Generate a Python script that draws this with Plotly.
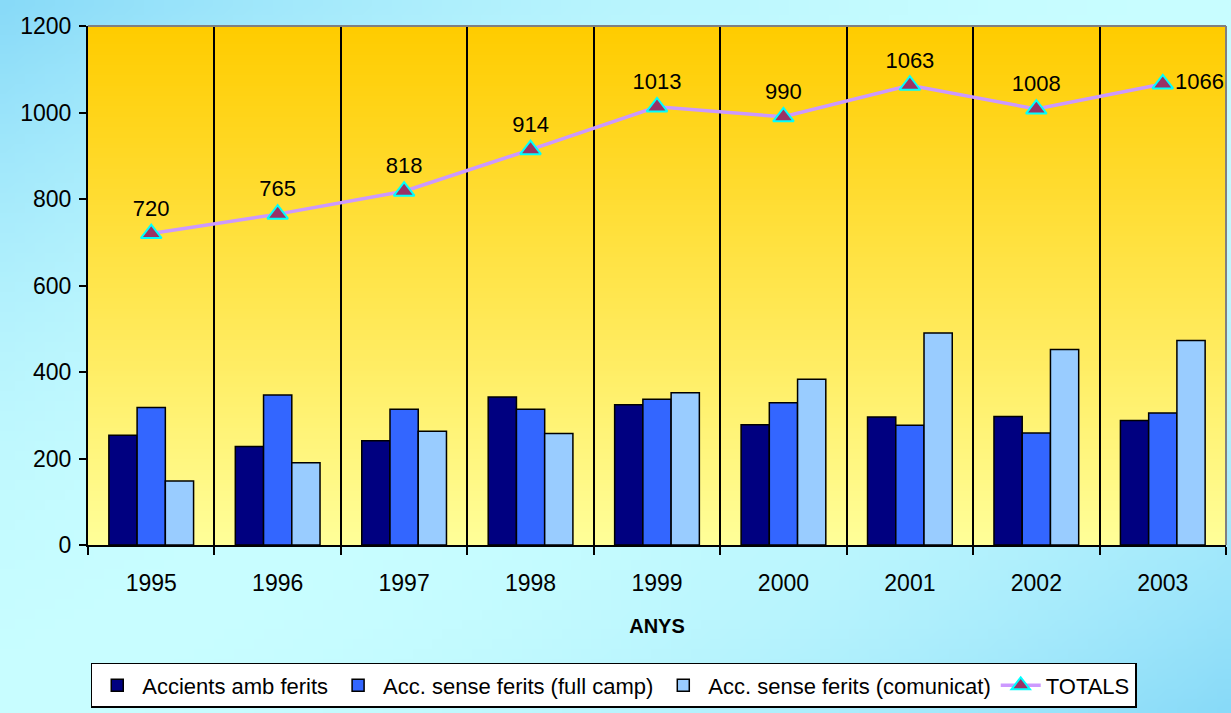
import base64, struct, zlib
import plotly.graph_objects as go

years = ["1995", "1996", "1997", "1998", "1999", "2000", "2001", "2002", "2003"]
amb_ferits = [254, 228, 241, 342, 324, 278, 296, 297, 288]
sense_full = [318, 347, 314, 314, 337, 329, 277, 259, 305]
sense_com = [148, 190, 263, 258, 352, 383, 490, 452, 473]
totals = [720, 765, 818, 914, 1013, 990, 1063, 1008, 1066]

W, H = 1231, 713
ML, MR, MT, MB = 88, 5, 26, 168
PW, PH = W - ML - MR, H - MT - MB
FONT = "Liberation Sans, Arial, sans-serif"


def png_uri(w, h, fn):
    raw = bytearray()
    for y in range(h):
        raw.append(0)
        for x in range(w):
            raw.extend(fn(x, y))
    def chunk(tag, data):
        c = struct.pack(">I", len(data)) + tag + data
        return c + struct.pack(">I", zlib.crc32(tag + data) & 0xFFFFFFFF)
    png = b"\x89PNG\r\n\x1a\n"
    png += chunk(b"IHDR", struct.pack(">IIBBBBB", w, h, 8, 2, 0, 0, 0))
    png += chunk(b"IDAT", zlib.compress(bytes(raw), 9))
    png += chunk(b"IEND", b"")
    return "data:image/png;base64," + base64.b64encode(png).decode()


def mix(a, b, t):
    return bytes(int(round(a[i] + (b[i] - a[i]) * t)) for i in range(3))


deep = (0x88, 0xDA, 0xF8)
light = (0xC8, 0xFD, 0xFF)
pw_, ph_ = 124, 72


def paper_px(x, y):
    t = (x / (pw_ - 1) + y / (ph_ - 1)) / 2.0
    wgt = 1 - abs(2 * t - 1) ** 2
    return mix(deep, light, wgt)


top_c = (0xFF, 0xCC, 0x00)
bot_c = (0xFF, 0xFF, 0x99)


def plot_px(x, y):
    return mix(top_c, bot_c, y / 99.0)


paper_img = png_uri(pw_, ph_, paper_px)
plot_img = png_uri(2, 100, plot_px)

fig = go.Figure()
bar_line = dict(color="black", width=1.5)
fig.add_trace(go.Bar(x=years, y=amb_ferits, name="Accients amb ferits",
                     marker=dict(color="#000080", line=bar_line)))
fig.add_trace(go.Bar(x=years, y=sense_full, name="Acc. sense ferits (full camp)",
                     marker=dict(color="#3366FF", line=bar_line)))
fig.add_trace(go.Bar(x=years, y=sense_com, name="Acc. sense ferits (comunicat)",
                     marker=dict(color="#99CCFF", line=bar_line)))
fig.add_trace(go.Scatter(
    x=years, y=totals, name="TOTALS", mode="lines+markers+text",
    line=dict(color="#CC99FF", width=3.5),
    marker=dict(symbol="triangle-up", size=18, color="#993366",
                line=dict(color="#00FFFF", width=2)),
    text=[str(v) for v in totals],
    textposition=["top center"] * 8 + ["middle right"],
    textfont=dict(family=FONT, size=22, color="black"),
    cliponaxis=False,
))

fig.update_layout(
    width=W, height=H,
    margin=dict(l=ML, r=MR, t=MT, b=MB, autoexpand=False),
    paper_bgcolor="#C4F8FF",
    plot_bgcolor="rgba(0,0,0,0)",
    barmode="group", bargap=0.33, bargroupgap=0,
    font=dict(family=FONT, size=22, color="black"),
    showlegend=True,
    legend=dict(orientation="h", x=0.462, xanchor="center", y=-0.314, yanchor="bottom",
                bgcolor="white", bordercolor="black", borderwidth=1.5,
                font=dict(family=FONT, size=22, color="black"),
                traceorder="normal", itemwidth=40),
    images=[
        dict(source=paper_img, xref="paper", yref="paper",
             x=-ML / PW, y=1 + MT / PH, sizex=W / PW, sizey=H / PH,
             sizing="stretch", xanchor="left", yanchor="top", layer="below"),
        dict(source=plot_img, xref="paper", yref="paper",
             x=0, y=1, sizex=1, sizey=1,
             sizing="stretch", xanchor="left", yanchor="top", layer="below"),
    ],
    shapes=[
        dict(type="line", xref="paper", yref="paper", x0=0, x1=1, y0=1, y1=1,
             line=dict(color="#808080", width=2)),
        dict(type="line", xref="paper", yref="paper", x0=1, x1=1, y0=0, y1=1,
             line=dict(color="#808080", width=2)),
    ],
)

fig.update_xaxes(
    type="category", range=[-0.5, len(years) - 0.5],
    tickson="boundaries", showgrid=True, gridcolor="black", gridwidth=1.5,
    ticks="outside", ticklen=8, tickwidth=1.5, tickcolor="black",
    showline=True, linecolor="black", linewidth=2, automargin=False,
    tickfont=dict(family=FONT, size=23, color="black"), ticklabelstandoff=16,
    title=dict(text="<b>ANYS</b>", font=dict(family=FONT, size=20, color="black"), standoff=24),
)
fig.update_yaxes(
    range=[0, 1200], dtick=200, showgrid=False, zeroline=False,
    ticks="outside", ticklen=7, tickwidth=1.5, tickcolor="black",
    showline=True, linecolor="black", linewidth=2, automargin=False,
    tickfont=dict(family=FONT, size=23, color="black"), ticklabelstandoff=3,
)

fig.write_html("out.html", config={"displayModeBar": False},
               post_script="document.body.style.margin='0';document.body.style.overflow='hidden';")
